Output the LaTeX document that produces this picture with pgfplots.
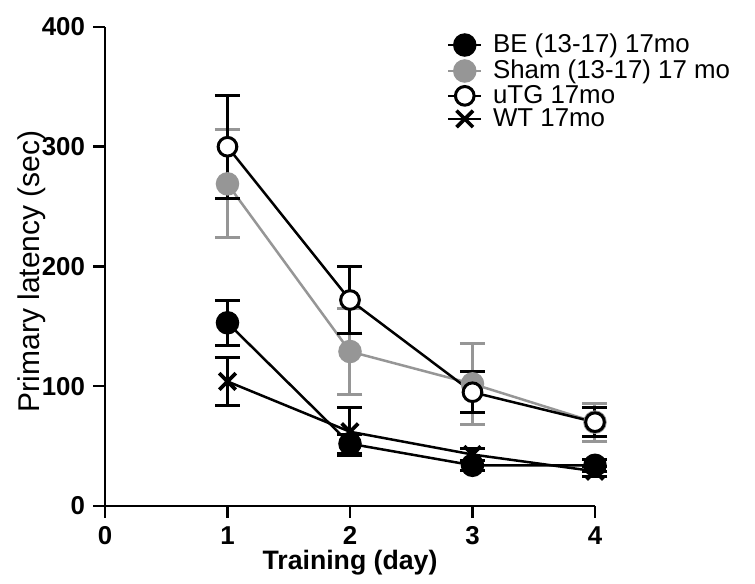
\documentclass[border=0pt]{standalone}
\usepackage{fontspec}
\setmainfont{Liberation Sans}
\usepackage{pgfplots}
\pgfplotsset{compat=1.18}
\definecolor{shamgray}{RGB}{150,150,150}
\begin{document}
\begin{tikzpicture}
\begin{axis}[
  name=ax,
  scale only axis,
  width=294pt, height=287.4pt,
  xmin=0, xmax=4, ymin=0, ymax=400,
  axis lines=left,
  axis line style={line width=1.5pt, -},
  xtick={0,1,2,3,4}, ytick={0,100,200,300,400},
  tick align=outside,
  major tick length=7pt,
  tick style={line width=1.5pt, black},
  /pgf/number format/assume math mode=true,
  tick label style={font=\fontsize{15.5}{15.5}\selectfont\bfseries},
  yticklabel style={xshift=-1.5pt},
  xticklabel style={yshift=-2pt},
  xlabel={\textbf{Training (day)}},
  ylabel={Primary latency (sec)},
  xlabel style={font=\fontsize{16}{18}\selectfont, at={(axis description cs:0.5,0)}, anchor=center, yshift=-34pt},
  ylabel style={font=\fontsize{18}{20}\selectfont, at={(axis description cs:-0.149,0.49)}, anchor=center, rotate=0},
  legend style={at={(0.697,0.985)}, anchor=north west, draw=none, fill=none,
    font=\fontsize{15.5}{15.5}\selectfont, row sep=3pt, inner sep=0pt,
    nodes={inner sep=0pt, text height=10pt, text depth=0.5pt}},
  legend cell align=left,
  legend image code/.code={
    \draw[mark repeat=2,mark phase=2] plot coordinates {(0pt,0pt) (10pt,0pt) (20pt,0pt)};
    \path[draw=none, fill=none] (20pt,0pt) -- (27pt,0pt);
  },
  error bars/y dir=both,
  error bars/y explicit,
  every axis plot/.append style={line width=1.5pt},
  clip=false,
]
\addplot[black, mark=*, mark size=6.3pt,
  error bars/error bar style={line width=1.8pt, black},
  error bars/error mark options={rotate=90, mark size=7.5pt, line width=1.8pt, black}]
  table[x=x, y=y, y error=e] {
  x y e
  1 153 19
  2 52 8
  3 34 4
  4 34 5
};
\addlegendentry{BE (13-17) 17mo}
\addplot[shamgray, mark=*, mark size=6.3pt, mark options={fill=shamgray, draw=shamgray},
  error bars/error bar style={line width=1.8pt, shamgray},
  error bars/error mark options={rotate=90, mark size=7.5pt, line width=1.8pt, shamgray}]
  table[x=x, y=y, y error=e] {
  x y e
  1 269 45
  2 129 36
  3 102 34
  4 70 16
};
\addlegendentry{Sham (13-17) 17 mo}
\addplot[black, mark=*, mark size=5.6pt, mark options={fill=white, draw=black, line width=1.8pt},
  error bars/error bar style={line width=1.8pt, black},
  error bars/error mark options={rotate=90, mark size=7.5pt, line width=1.8pt, black}]
  table[x=x, y=y, y error=e] {
  x y e
  1 300 43
  2 172 28
  3 95 17
  4 70 12
};
\addlegendentry{uTG 17mo}
\addplot[black, mark=x, mark size=7pt, mark options={line width=2.2pt},
  error bars/error bar style={line width=1.8pt, black},
  error bars/error mark options={rotate=90, mark size=7.5pt, line width=1.8pt, black}]
  table[x=x, y=y, y error=e] {
  x y e
  1 104 20
  2 62 20
  3 43 5
  4 29 4
};
\addlegendentry{WT 17mo}
\end{axis}
\path[use as bounding box] ([xshift=-63pt, yshift=-46.8pt]ax.south west) rectangle ([xshift=-63pt, yshift=-46.8pt]ax.south west) ++(453pt,350.4pt);
\end{tikzpicture}
\end{document}
